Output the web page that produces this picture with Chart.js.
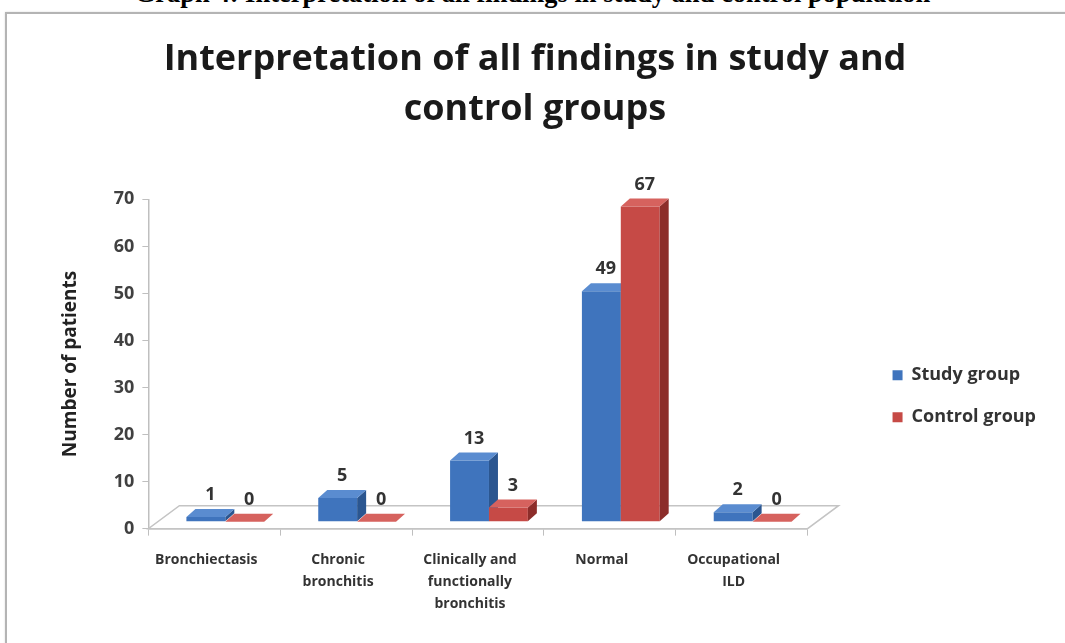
<!DOCTYPE html>
<html>
<head>
<meta charset="utf-8">
<script src="https://cdn.jsdelivr.net/npm/chart.js@4"></script>
<style>
  html, body { margin: 0; padding: 0; background: #fff; }
  body { width: 1065px; height: 643px; overflow: hidden; position: relative; }
  .caption {
    position: absolute; left: 0; top: -22px; width: 1065px; text-align: center;
    font: bold 26.5px "Liberation Serif", serif; color: #000; white-space: nowrap;
  }
  .frame {
    position: absolute; left: 5px; top: 12px; width: 1100px; height: 700px;
    border: 2px solid #b4b4b4; box-shadow: 0 0 2px #ddd;
  }
  .wrap { position: absolute; left: 0; top: 0; width: 1065px; height: 643px; }
</style>
</head>
<body>
<div class="caption">Graph 4: Interpretation of all findings in study and control population</div>
<div class="frame"></div>
<div class="wrap"><canvas id="chart"></canvas></div>
<script>
// chart values
const categories = [
  ['Bronchiectasis'],
  ['Chronic', 'bronchitis'],
  ['Clinically and', 'functionally', 'bronchitis'],
  ['Normal'],
  ['Occupational', 'ILD']
];
const studyGroup = [1, 5, 13, 49, 2];
const controlGroup = [0, 0, 3, 67, 0];
const seriesNames = ['Study group', 'Control group'];
const titleLines = ['Interpretation of all findings in study and', 'control groups'];

const FONT = '"Open Sans", sans-serif';

// face colours: front, side, top
const shades = [
  { front: '#3f74bd', side: '#2b5690', top: '#5a8cd0' },
  { front: '#c64a46', side: '#8c2d2a', top: '#d6625e' }
];

const depth = { dx: 9, dy: 8 };     // bar depth
const shift = { dx: 11, dy: 7 };    // bars sit mid-floor
const floor = { dx: 31, dy: 23 };   // floor depth

function poly(ctx, pts, fill) {
  ctx.beginPath();
  ctx.moveTo(pts[0][0], pts[0][1]);
  for (let k = 1; k < pts.length; k++) ctx.lineTo(pts[k][0], pts[k][1]);
  ctx.closePath();
  ctx.fillStyle = fill;
  ctx.fill();
}

const bar3d = {
  id: 'bar3d',
  afterLayout(chart) {
    // centre the title on the whole picture, not between the paddings
    const t = chart.titleBlock;
    if (t) { t.left = 0; t.right = 1070; t.width = 1070; }
  },
  beforeDatasetsDraw(chart) {
    const { ctx, chartArea, scales } = chart;
    const y0 = scales.y.getPixelForValue(0);
    ctx.save();
    ctx.strokeStyle = '#c4c4c4';
    ctx.lineWidth = 1.5;
    ctx.beginPath();
    ctx.moveTo(chartArea.left, y0);
    ctx.lineTo(chartArea.right, y0);
    ctx.lineTo(chartArea.right + floor.dx, y0 - floor.dy);
    ctx.lineTo(chartArea.left + floor.dx, y0 - floor.dy);
    ctx.closePath();
    ctx.stroke();
    ctx.restore();
  },
  // flat bars are replaced by the 3d ones below
  beforeDatasetDraw() {
    return false;
  },
  afterDatasetsDraw(chart) {
    const { ctx } = chart;
    const metas = chart.data.datasets.map((d, i) => chart.getDatasetMeta(i));
    ctx.save();
    ctx.translate(shift.dx, -shift.dy);
    categories.forEach((c, i) => {
      metas.forEach((meta, di) => {
        const { x, y, base, width } = meta.data[i].getProps(['x', 'y', 'base', 'width'], true);
        const l = x - width / 2, r = x + width / 2;
        const s = shades[di];
        if (base - y > 0) poly(ctx, [[l, y], [r, y], [r, base], [l, base]], s.front);
        poly(ctx, [[r, y], [r + depth.dx, y - depth.dy], [r + depth.dx, base - depth.dy], [r, base]], s.side);
        poly(ctx, [[l, y], [r, y], [r + depth.dx, y - depth.dy], [l + depth.dx, y - depth.dy]], s.top);
      });
    });
    // value labels
    ctx.fillStyle = '#333';
    ctx.font = 'bold 18px ' + FONT;
    ctx.textAlign = 'center';
    ctx.textBaseline = 'middle';
    metas.forEach((meta, di) => {
      const values = chart.data.datasets[di].data;
      meta.data.forEach((bar, i) => {
        const { x, y } = bar.getProps(['x', 'y'], true);
        ctx.fillText(String(values[i]), x + depth.dx / 2, y - depth.dy - 14);
      });
    });
    ctx.restore();
  }
};

function drawChart() {
  const ctx = document.getElementById('chart').getContext('2d');
  new Chart(ctx, {
    type: 'bar',
    data: {
      labels: categories,
      datasets: [
        { label: seriesNames[0], data: studyGroup, backgroundColor: shades[0].front, borderWidth: 0 },
        { label: seriesNames[1], data: controlGroup, backgroundColor: shades[1].front, borderWidth: 0 }
      ]
    },
    options: {
      responsive: true,
      maintainAspectRatio: false,
      animation: false,
      datasets: { bar: { categoryPercentage: 0.59, barPercentage: 1 } },
      layout: { padding: { top: 35, left: 59, right: 19, bottom: 15 } },
      plugins: {
        tooltip: { enabled: false },
        title: {
          display: true,
          text: titleLines,
          color: '#1a1a1a',
          font: { family: FONT, size: 36, weight: 'bold', lineHeight: 1.38 },
          padding: { top: 0, bottom: 65 }
        },
        legend: {
          position: 'right',
          maxWidth: 240,
          title: { display: true, text: ' ', padding: { top: 120, bottom: 0 }, font: { size: 8 } },
          labels: {
            color: '#333',
            boxWidth: 10,
            boxHeight: 10,
            padding: 24,
            font: { family: FONT, size: 18, weight: 'bold' }
          }
        }
      },
      scales: {
        x: {
          grid: { drawOnChartArea: false, tickLength: 7, color: '#bfbfbf' },
          border: { color: '#bfbfbf', width: 1.5 },
          ticks: {
            color: '#333',
            maxRotation: 0,
            autoSkip: false,
            padding: 13,
            labelOffset: -8,
            font: { family: FONT, size: 14, weight: 'bold', lineHeight: 1.58 }
          }
        },
        y: {
          min: 0,
          max: 70,
          grid: { drawOnChartArea: false, tickLength: 6, color: '#bfbfbf' },
          border: { color: '#bfbfbf', width: 1.5 },
          ticks: {
            stepSize: 10,
            color: '#404040',
            padding: 8,
            font: { family: FONT, size: 18, weight: 'bold' }
          },
          title: {
            display: true,
            text: 'Number of patients',
            color: '#222',
            padding: { top: 0, bottom: 24 },
            font: { family: FONT, size: 19, weight: 'bold' }
          }
        },
        gap: {
          type: 'linear',
          position: 'right',
          display: true,
          grid: { display: false },
          border: { display: false },
          ticks: { display: false },
          afterFit(scale) { scale.width = 61; }
        }
      }
    },
    plugins: [bar3d]
  });
}

document.fonts.load('bold 18px "Open Sans"').then(drawChart, drawChart);
</script>
</body>
</html>
